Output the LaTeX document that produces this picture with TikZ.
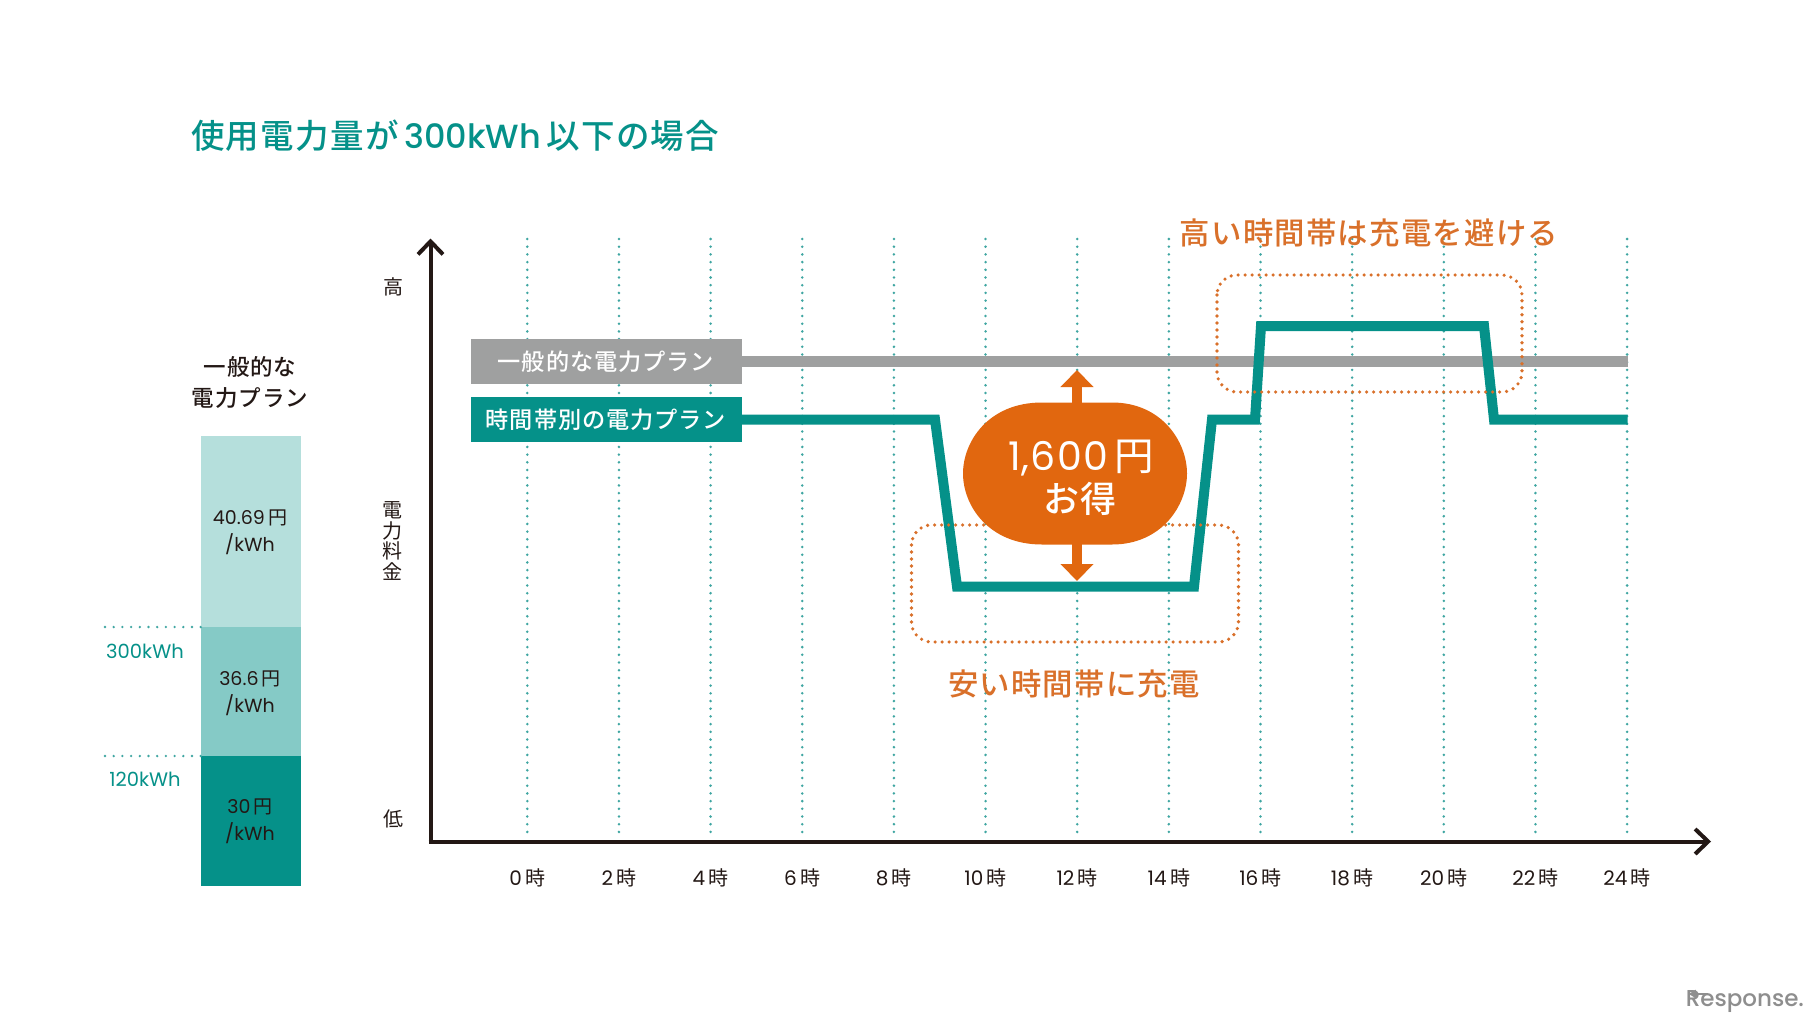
\documentclass[tikz,border=0pt]{standalone}
\usepackage{fontspec}
\usetikzlibrary{arrows.meta}
\setmainfont{Poppins}
\newfontfamily\cjk[LetterSpace=4]{Noto Sans CJK JP}
\newfontfamily\cjkm[LetterSpace=4]{Noto Sans CJK JP Medium}
\newfontfamily\latm{Poppins Medium}
\newfontfamily\latw[LetterSpace=3]{Poppins}
\definecolor{tealmain}{HTML}{059189}
\definecolor{teallight}{HTML}{B5DFDC}
\definecolor{tealmid}{HTML}{85CAC6}
\definecolor{tealdot}{HTML}{3FA6A2}
\definecolor{graymain}{HTML}{9FA0A0}
\definecolor{graymark}{HTML}{8E8E8E}
\definecolor{orangemain}{HTML}{E1670F}
\definecolor{orangetext}{HTML}{D9702A}
\definecolor{inkmain}{HTML}{231815}
\newcommand{\fs}[1]{\fontsize{#1bp}{#1bp}\selectfont}
\tikzset{
  x=1bp,y=-1bp,
  every node/.style={inner sep=0pt,outer sep=0pt,text=inkmain},
  gridline/.style={draw=tealdot,line width=2.8bp,line cap=round,dash pattern=on 0pt off 7.7bp},
  leader/.style={draw=tealdot,line width=2.6bp,line cap=round,dash pattern=on 0pt off 8.7bp},
  zonebox/.style={draw=orangetext,line width=3.6bp,line cap=round,dash pattern=on 0pt off 7bp,rounded corners=20bp},
  axisline/.style={draw=inkmain,line width=4bp,-{Straight Barb[width=25bp,length=13bp,line width=4bp]}},
  hourlabel/.style={font=\fs{20}},
  scalelabel/.style={font=\cjk\fs{20},align=center},
  barlabel/.style={font=\fs{19},align=center},
  kwhlabel/.style={font=\fs{19.5},text=tealmain},
  zonelabel/.style={font=\cjkm\fs{30.4},text=orangetext},
  planbox/.style={minimum width=271bp,minimum height=44.5bp,font=\cjkm\fs{23.2},text=white},
  saveline/.style={draw=orangemain,line width=10bp,-{Triangle[width=32bp,length=17bp]}},
}
\begin{document}
\begin{tikzpicture}
\useasboundingbox (0,0) rectangle (1815,1020);
\fill[white] (0,0) rectangle (1815,1020);

% title
\node[anchor=west,text=tealmain,font=\latm\fs{33.5}] (title) at (191,136)
  {{\cjkm 使用電力量が}\,300kWh\,{\cjkm 以下の場合}};

% left bar
\fill[teallight] (201,436) rectangle (301,627);
\fill[tealmid] (201,627) rectangle (301,756);
\fill[tealmain] (201,756) rectangle (301,886);
\node[font=\cjkm\fs{22.5},align=center,text=inkmain] (plantitle) at (250,382.5)
  {一般的な\\[9bp]電力プラン};
\node[barlabel] (p3) at (250,532) {40.69\,{\cjk 円}\\[6.5bp]/kWh};
\node[barlabel] (p2) at (250,693) {36.6\,{\cjk 円}\\[6.5bp]/kWh};
\node[barlabel] (p1) at (250,821.5) {30\,{\cjk 円}\\[6.5bp]/kWh};
\coordinate (l3a) at (105,627); \coordinate (l3b) at (201,627);
\coordinate (l2a) at (105,756); \coordinate (l2b) at (201,756);
\draw[leader] (l3a) -- (l3b);
\draw[leader] (l2a) -- (l2b);
\node[kwhlabel] (k3) at (145,651) {300kWh};
\node[kwhlabel] (k2) at (145,779) {120kWh};

% scale labels
\node[scalelabel] (hi) at (393,287) {高};
\node[scalelabel,font=\cjk\fs{20}] (mid) at (392,541) {電\\[0.5bp]力\\[0.5bp]料\\[0.5bp]金};
\node[scalelabel] (lo) at (393,818.5) {低};

% grid and hour labels
\foreach \h [count=\i from 0] in {0,2,...,24} {
  \pgfmathsetmacro{\xx}{527.3+\i*91.65}
  \coordinate (gt\i) at (\xx,239);
  \coordinate (gb\i) at (\xx,836);
  \draw[gridline] (gt\i) -- (gb\i);
  \node[hourlabel] (hl\i) at (\xx,877.5) {\h\,{\cjk 時}};
}

% axes
\coordinate (org) at (430.5,841.5);
\coordinate (ytip) at (430.5,238.5);
\coordinate (xtip) at (1711,841.5);
\draw[axisline] (org) -- (ytip);
\draw[axisline] ([xshift=-2bp]org) -- (xtip);

% plan lines
\node[planbox,fill=graymain] (gbox) at (606,361.5) {一般的な電力プラン};
\node[planbox,fill=tealmain] (tbox) at (606,419.5) {時間帯別の電力プラン};
\coordinate (gend) at (1627.5,361.5);
\draw[graymain,line width=10.5bp] (gbox.east) -- (gend);
\coordinate (t1) at (935,419.5);
\coordinate (t2) at (957,586.5);
\coordinate (t3) at (1194,586.5);
\coordinate (t4) at (1212,419.5);
\coordinate (t5) at (1255,419.5);
\coordinate (t6) at (1261,326);
\coordinate (t7) at (1484,326);
\coordinate (t8) at (1494,419.5);
\coordinate (tend) at (1627.5,419.5);
\draw[tealmain,line width=10bp,miter limit=20] (tbox.east) -- (t1) -- (t2) -- (t3) -- (t4) -- (t5) -- (t6) -- (t7) -- (t8) -- (tend);

% zones
\draw[zonebox] (1217,275) rectangle (1522,392);
\draw[zonebox] (911.5,525) rectangle (1238.5,642);
\node[zonelabel] (zhi) at (1369,233) {高い時間帯は充電を避ける};
\node[zonelabel] (zlo) at (1074,684) {安い時間帯に充電};

% saving blob
\coordinate (blobtop) at (1077,410);
\coordinate (blobbot) at (1077,540);
\coordinate (uptip) at (1077,370);
\coordinate (downtip) at (1077,581);
\draw[saveline] (blobtop) -- (uptip);
\draw[saveline] (blobbot) -- (downtip);
\fill[orangemain] (1042,402.5) -- (1112,402.5)
  .. controls (1162,402.5) and (1187,442) .. (1187,473.5)
  .. controls (1187,505) and (1162,544.5) .. (1112,544.5)
  -- (1042,544.5)
  .. controls (988,544.5) and (963,505) .. (963,473.5)
  .. controls (963,442) and (988,402.5) .. (1042,402.5) -- cycle;
\node[text=white,font=\latw\fs{39.5},align=center] (save) at (1081,478)
  {1,600\,{\cjk 円}\\[2.5bp]{\cjkm\fs{36} お得\rule{11bp}{0pt}}};

% watermark
\node[text=graymark,font=\latm\fs{23},anchor=east] (resp) at (1804,1002) {Response.};
\coordinate (ra) at ([xshift=22bp,yshift=-3bp]resp.north west);
\coordinate (rb) at ([xshift=3bp,yshift=-3bp]resp.north west);
\draw[graymark,line width=2.5bp,-{Triangle[width=8bp,length=7bp]}] (ra) -- (rb);
\end{tikzpicture}
\end{document}
